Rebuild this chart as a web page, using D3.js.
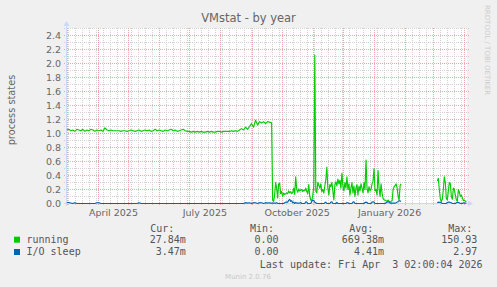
<!DOCTYPE html>
<html><head><meta charset="utf-8">
<script src="https://cdn.jsdelivr.net/npm/d3@7"></script>
<style>html,body{margin:0;padding:0;background:#f0f0f0;overflow:hidden}svg{display:block}text{white-space:pre}</style>
</head><body>
<svg id="chart" width="497" height="287"></svg>
<script>
// ---------- data ----------
const chartTitle = "VMstat - by year";
const yAxisTitle = "process states";
const yTickValues = [0.0,0.2,0.4,0.6,0.8,1.0,1.2,1.4,1.6,1.8,2.0,2.2,2.4];
const xTickLabels = ["April 2025","July 2025","October 2025","January 2026"];
const xTickDates = ["2025-04-16","2025-07-16","2025-10-16","2026-01-16"];

const seriesNames = ["running","I/O sleep"];
const seriesColors = ["#00cc00","#0066b3"];
const curValues = ["27.84m","3.47m"];
const minValues = ["0.00","0.00"];
const avgValues = ["669.38m","4.41m"];
const maxValues = ["150.93","2.97"];
const lastUpdate = "Last update: Fri Apr  3 02:00:04 2026";
const versionText = "Munin 2.0.76";
const watermark = "RRDTOOL / TOBI OETIKER";

// every 2 days from 2025-02-28
const runningEarly = [
 1.05,1.06,1.04,1.05,1.03,1.06,1.05,1.04,1.06,1.03,1.05,1.04,1.06,1.05,1.03,1.05,1.04,
 1.05,1.03,1.08,1.05,1.04,1.05,1.04,1.04,
 1.04,1.04,1.03,1.04,1.04,1.03,1.04,1.05,1.04,1.03,1.04,1.05,1.03,1.04,1.05,1.04,
 1.05,1.03,1.04,1.06,1.04,1.05,1.04,1.03,1.05,1.04,1.05,1.06,1.04,1.05,1.03,1.04,1.05,1.06,1.04,1.03,
 1.03,1.02,1.03,1.02,1.03,1.02,1.03,1.02,1.02,1.03,1.02,1.03,1.02,1.02,1.03,1.03,1.02,1.03,1.03,1.03,1.03,1.04,1.03,1.04,1.03,
 1.05,1.07,1.05,1.09,1.06,1.10,1.14,1.09,1.19,1.12,1.17,1.15,1.17,1.14,1.17,1.16];
const ioEarly = [
 0.015,0.015,0.008,0,0.012,0,0,0,0,0,
 0,0,0,0,0,0.01,0.012,0,0,0,
 0,0,0,0,0,0,0,0,0,0,
 0,0,0,0,0,0,0.012,0,0,0,
 0,0,0,0,0,0,0,0,0,0,
 0,0,0,0,0,0,0,0,0,0,
 0,0,0,0,0,0,0,0,0,0,
 0,0,0,0,0,0,0,0,0,0,
 0,0,0,0,0,0,0,0,0,0.012,
 0.005,0.01,0,0.012,0.01,0,0.012,0.01,0,0.012,
 0.005,0.01];

// daily from 2025-09-19
const runningLate = [
 1.16,1.15,0.05,0.03,0.12,0.30,0.22,0.08,0.28,0.29,
 0.14,0.17,0.10,0.15,0.13,0.14,0.15,0.14,0.18,0.15,
 0.17,0.14,0.16,0.22,0.13,0.38,0.20,0.16,0.21,0.18,
 0.19,0.20,0.17,0.19,0.18,0.22,0.17,0.14,0.27,0.10,
 0.05,0.04,0.12,0.25,2.12,0.18,0.15,0.30,0.26,0.22,
 0.28,0.17,0.20,0.15,0.25,0.34,0.52,0.22,0.12,0.27,
 0.24,0.30,0.18,0.05,0.27,0.31,0.25,0.35,0.28,0.33,
 0.22,0.43,0.25,0.18,0.30,0.22,0.38,0.20,0.28,0.12,
 0.22,0.30,0.15,0.25,0.10,0.22,0.27,0.12,0.25,0.18,
 0.28,0.22,0.15,0.30,0.20,0.62,0.22,0.15,0.24,0.18,
 0.20,0.28,0.32,0.50,0.18,0.20,0.12,0.47,0.22,0.10,
 0.28,0.15,0.07,0.05,0.05,0.04,0.03,0.05,0.03,0.02,
 0.03,0.04,0.20,0.24,0.26,0.28,0.22,0.10,0.05,0.26,
 0.28,null,null,null,null,null,null,null,null,null,
 null,null,null,null,null,null,null,null,null,null,
 null,null,null,null,null,null,null,null,null,null,
 null,null,null,null,null,null,0.32,0.36,0.20,0.07,
 0.03,0.06,0.20,0.38,0.30,0.07,0.05,0.18,0.30,0.28,
 0.10,0.06,0.22,0.20,0.12,0.05,0.04,0.20,0.16,0.10,
 0.12,0.08,0.04,0.05,0.03,0.03];
const ioLate = [
 0.005,0.005,0.005,0.005,0.005,0.005,0.012,0,0,0,
 0,0,0,0,0.01,0.02,0.02,0.02,0.045,0.06,
 0.03,0.04,0.01,0.02,0,0.015,0.005,0.005,0.005,0.005,
 0.015,0,0,0,0,0.025,0.02,0,0,0,
 0,0.03,0.05,0.04,0.02,0.01,0,0,0,0,
 0,0,0,0,0.01,0.02,0,0,0,0,
 0.02,0.025,0,0,0,0,0.015,0,0,0,
 0,0,0,0,0,0,0.012,0.01,0,0,
 0,0,0.02,0.025,0,0,0,0,0,0,
 0,0,0,0,0.015,0.02,0.015,0,0,0,
 0,0.02,0.025,0.02,0,0,0,0,0,0,
 0,0,0,0,0,0.01,0.02,0.025,0.02,0.005,
 0.005,0.005,0.005,0.005,0.005,0.01,0.02,0.03,0.04,0.035,
 0.03,null,null,null,null,null,null,null,null,null,
 null,null,null,null,null,null,null,null,null,null,
 null,null,null,null,null,null,null,null,null,null,
 null,null,null,null,null,null,0.01,0.02,0.015,0.02,
 0.01,0,0,0,0,0,0.015,0.02,0.02,0.015,
 0.01,0,0,0,0,0.012,0.02,0.015,0.01,0,
 0,0,0.01,0.005,0.005,0.005];

// ---------- drawing ----------
const svg = d3.select("#chart");
const FONT = "'DejaVu Sans', sans-serif";
const MONO = "'DejaVu Sans Mono', monospace";
const TXT = "#666666";
const AXIS = "#CFD6F8";

const pLeft = 66.5, pRight = 467, pBottom = 203.5, pTop = 28.5;
const tStart = new Date(Date.UTC(2025,1,28,5));
const tEnd = new Date(Date.UTC(2026,3,3,2));
const x = d3.scaleUtc().domain([tStart, tEnd]).range([pLeft, pRight]);
const y = d3.scaleLinear().domain([0, 2.5]).range([pBottom, pTop]);

svg.append("rect").attr("width",497).attr("height",287).attr("fill","#f0f0f0");
svg.append("rect").attr("x",67).attr("y",28).attr("width",400).attr("height",176).attr("fill","#ffffff");

const snap = v => Math.floor(v) + 0.5;
const grid = svg.append("g").attr("shape-rendering","crispEdges");
const minorCol = "#d2d2d2", majorCol = "#eba8a8";

// horizontal grid
const minorY = d3.range(1, 26).map(d => d / 10);
grid.selectAll(".hmin").data(minorY).join("line")
  .attr("x1",64).attr("x2",469).attr("y1",d=>snap(y(d))).attr("y2",d=>snap(y(d)))
  .attr("stroke",minorCol).attr("stroke-dasharray","1,1");
grid.selectAll(".hmaj").data(yTickValues.filter(d=>d>0)).join("line")
  .attr("x1",64).attr("x2",469).attr("y1",d=>snap(y(d))).attr("y2",d=>snap(y(d)))
  .attr("stroke",majorCol).attr("stroke-dasharray","1,1");

// vertical grid
const weeks = d3.utcSunday.range(tStart, tEnd);
const months = d3.utcMonth.range(tStart, tEnd);
grid.selectAll(".vmin").data(weeks).join("line")
  .attr("x1",d=>snap(x(d))).attr("x2",d=>snap(x(d))).attr("y1",28).attr("y2",206)
  .attr("stroke",minorCol).attr("stroke-dasharray","1,1");
grid.selectAll(".vmaj").data(months).join("line")
  .attr("x1",d=>snap(x(d))).attr("x2",d=>snap(x(d))).attr("y1",28).attr("y2",206)
  .attr("stroke",majorCol).attr("stroke-dasharray","1,1");

// axes
svg.append("line").attr("x1",64).attr("x2",469).attr("y1",pBottom).attr("y2",pBottom)
  .attr("stroke",AXIS).attr("shape-rendering","crispEdges");
svg.append("line").attr("x1",pLeft).attr("x2",pLeft).attr("y1",206).attr("y2",25)
  .attr("stroke",AXIS).attr("shape-rendering","crispEdges");
svg.append("path").attr("d","M468,200.5L468,206.5L473,203.5Z").attr("fill",AXIS);
svg.append("path").attr("d","M63.5,26L69.5,26L66.5,21Z").attr("fill",AXIS);

// data lines
const earlyDates = runningEarly.map((_, i) => new Date(Date.UTC(2025,1,28 + 2*i,12)));
const lateDates = runningLate.map((_, i) => new Date(Date.UTC(2025,8,19 + i,12)));
const allDates = earlyDates.concat(lateDates);
const runningAll = runningEarly.concat(runningLate);
const ioAll = ioEarly.concat(ioLate);
const seriesValues = [runningAll, ioAll];

const line = d3.line().defined(d => d.v !== null).x(d => x(d.t)).y(d => y(d.v));
seriesValues.forEach((vals, k) => {
  const pts = vals.map((v, i) => ({t: allDates[i], v}));
  svg.append("path").attr("d", line(pts)).attr("fill","none")
    .attr("stroke", seriesColors[k]).attr("stroke-width",1.15).attr("stroke-linejoin","round");
});

// y labels
svg.selectAll(".ylab").data(yTickValues).join("text")
  .attr("x",61).attr("y",d=>y(d)).attr("dy","0.36em").attr("text-anchor","end")
  .attr("font-family",FONT).attr("font-size",9.5).attr("fill",TXT)
  .text(d => d3.format(".1f")(d));

// x labels
svg.selectAll(".xlab").data(xTickLabels).join("text")
  .attr("x",(d,i)=>x(new Date(xTickDates[i]+"T00:00:00Z"))).attr("y",216).attr("text-anchor","middle")
  .attr("font-family",FONT).attr("font-size",9.5).attr("fill",TXT)
  .text(d => d);

// titles
svg.append("text").attr("x",248.5).attr("y",22).attr("text-anchor","middle")
  .attr("font-family",FONT).attr("font-size",11.5).attr("fill",TXT).text(chartTitle);
svg.append("text").attr("transform","translate(14.5,110) rotate(-90)").attr("text-anchor","middle")
  .attr("font-family",FONT).attr("font-size",9.8).attr("fill",TXT).text(yAxisTitle);
svg.append("text").attr("transform","translate(485,5) rotate(90)").attr("text-anchor","start")
  .attr("font-family",FONT).attr("font-size",7).attr("fill","#cccccc").text(watermark);

// legend
const leg = svg.append("g").attr("font-family",MONO).attr("font-size",10).attr("fill","#555555");
const headers = ["Cur:","Min:","Avg:","Max:"];
const headerX = [174.3,274,373.3,472.3];
const colX = [185.8,278.6,384,477.4];
headers.forEach((h,i)=> leg.append("text").attr("x",headerX[i]).attr("y",231.5).attr("text-anchor","end").text(h));
const cols = [curValues, minValues, avgValues, maxValues];
seriesNames.forEach((name, r) => {
  const yy = 243 + r * 12.3;
  svg.append("rect").attr("x",14).attr("y",yy-6.3).attr("width",6).attr("height",6).attr("fill",seriesColors[r]);
  leg.append("text").attr("x",26.5).attr("y",yy).text(name);
  cols.forEach((c, j) => leg.append("text").attr("x",colX[j]).attr("y",yy).attr("text-anchor","end").text(c[r]));
});
leg.append("text").attr("x",482.6).attr("y",267.6).attr("text-anchor","end")
  .attr("xml:space","preserve").style("white-space","pre").text(lastUpdate);
svg.append("text").attr("x",248).attr("y",278.5).attr("text-anchor","middle")
  .attr("font-family",FONT).attr("font-size",7).attr("fill","#c8c8c8").text(versionText);
</script>
</body></html>
